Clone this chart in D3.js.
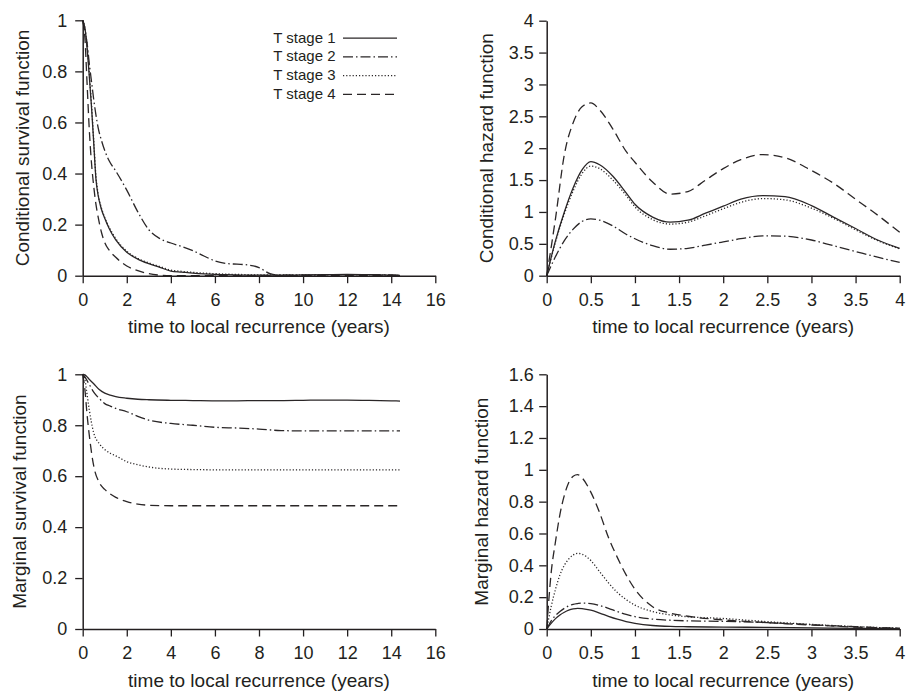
<!DOCTYPE html>
<html>
<head>
<meta charset="utf-8">
<script src="https://cdn.jsdelivr.net/npm/d3@7"></script>
<style>
  body { margin: 0; background: #fff; }
  text { font-family: "Liberation Sans", Arial, sans-serif; fill: #231f20; }
</style>
</head>
<body>
<svg id="chart" width="906" height="691"></svg>
<script>
// ---- data ----
const stages = ["T stage 1", "T stage 2", "T stage 3", "T stage 4"];

// conditional survival
const condSurvTime = [0,0.1,0.2,0.3,0.4,0.5,0.6,0.7,0.85,1,1.2,1.5,2,2.5,3,3.5,4,4.5,5,5.5,6,6.5,7,7.5,8,8.5,9,10,11,12,13,14,14.4];
const condSurvT1 = [1,0.97,0.89,0.78,0.66,0.52,0.38,0.315,0.26,0.225,0.185,0.14,0.092,0.065,0.047,0.033,0.018,0.014,0.01,0.007,0.005,0.004,0.003,0.002,0.002,0.002,0.002,0.003,0.004,0.005,0.004,0.002,0.001];
const condSurvT2 = [1,0.96,0.91,0.83,0.76,0.69,0.63,0.58,0.53,0.49,0.45,0.41,0.335,0.25,0.18,0.145,0.128,0.114,0.098,0.077,0.058,0.048,0.045,0.042,0.032,0.008,0.002,0.002,0.003,0.004,0.004,0.003,0.002];
const condSurvT3 = [1,0.97,0.9,0.79,0.67,0.53,0.39,0.32,0.265,0.228,0.19,0.145,0.096,0.068,0.05,0.036,0.022,0.017,0.013,0.01,0.008,0.006,0.005,0.004,0.003,0.003,0.003,0.003,0.004,0.004,0.003,0.002,0.001];
const condSurvT4 = [1,0.93,0.75,0.57,0.44,0.35,0.28,0.23,0.17,0.13,0.1,0.072,0.038,0.02,0.008,0.002,0,0,0,0,0,0,0,0,0,0,0,0,0,0,0,0,0];

// conditional hazard
const condHazTime = [0,0.1,0.2,0.3,0.4,0.5,0.6,0.75,0.9,1,1.2,1.4,1.6,1.8,2,2.2,2.45,2.7,3,3.25,3.5,3.75,4];
const condHazT1 = [0,0.55,1.0,1.38,1.66,1.79,1.74,1.56,1.3,1.12,0.92,0.84,0.87,0.98,1.09,1.2,1.255,1.24,1.1,0.92,0.74,0.56,0.43];
const condHazT2 = [0,0.3,0.55,0.73,0.85,0.89,0.87,0.78,0.65,0.58,0.47,0.415,0.43,0.48,0.53,0.58,0.625,0.62,0.56,0.47,0.38,0.29,0.21];
const condHazT3 = [0,0.53,0.97,1.33,1.6,1.72,1.68,1.5,1.26,1.08,0.88,0.81,0.84,0.94,1.05,1.15,1.21,1.19,1.06,0.9,0.72,0.55,0.42];
const condHazT4 = [0,0.9,1.9,2.4,2.65,2.71,2.6,2.3,1.95,1.78,1.47,1.28,1.32,1.5,1.68,1.82,1.9,1.85,1.65,1.45,1.2,0.95,0.68];

// marginal survival
const margSurvTime = [0,0.1,0.2,0.3,0.5,0.75,1,1.25,1.5,2,2.5,3,4,5,6,7,8,9,10,11,12,13,14,14.4];
const margSurvT1 = [1,0.998,0.99,0.98,0.963,0.94,0.926,0.918,0.912,0.906,0.902,0.9,0.898,0.897,0.896,0.896,0.897,0.897,0.898,0.899,0.899,0.898,0.896,0.895];
const margSurvT2 = [1,0.99,0.975,0.96,0.93,0.905,0.885,0.875,0.866,0.853,0.835,0.82,0.807,0.8,0.792,0.789,0.785,0.779,0.778,0.778,0.778,0.778,0.778,0.778];
const margSurvT3 = [1,0.98,0.92,0.86,0.77,0.728,0.705,0.69,0.68,0.657,0.645,0.636,0.628,0.626,0.625,0.625,0.625,0.625,0.625,0.625,0.625,0.625,0.625,0.625];
const margSurvT4 = [1,0.94,0.84,0.76,0.64,0.575,0.548,0.53,0.517,0.5,0.49,0.486,0.484,0.484,0.484,0.484,0.484,0.484,0.484,0.484,0.484,0.484,0.484,0.484];

// marginal hazard
const margHazTime = [0,0.05,0.1,0.15,0.2,0.25,0.3,0.35,0.4,0.5,0.6,0.7,0.8,0.9,1,1.2,1.4,1.6,2,2.5,3,3.5,4];
const margHazT1 = [0,0.035,0.065,0.088,0.105,0.118,0.126,0.13,0.128,0.118,0.1,0.08,0.062,0.047,0.036,0.022,0.016,0.014,0.012,0.01,0.007,0.004,0.002];
const margHazT2 = [0,0.05,0.085,0.11,0.13,0.145,0.155,0.16,0.163,0.16,0.148,0.13,0.11,0.092,0.078,0.062,0.055,0.051,0.048,0.04,0.027,0.014,0.004];
const margHazT3 = [0,0.14,0.25,0.34,0.4,0.44,0.465,0.475,0.47,0.43,0.36,0.29,0.23,0.185,0.15,0.11,0.088,0.077,0.066,0.046,0.029,0.015,0.005];
const margHazT4 = [0,0.35,0.55,0.72,0.84,0.92,0.96,0.97,0.95,0.86,0.73,0.575,0.45,0.34,0.25,0.14,0.1,0.08,0.057,0.04,0.025,0.012,0.004];

const survXTicks = [0,2,4,6,8,10,12,14,16];
const hazXTicks = [0,0.5,1,1.5,2,2.5,3,3.5,4];
const survYTicks = [0,0.2,0.4,0.6,0.8,1];
const condHazYTicks = [0,0.5,1,1.5,2,2.5,3,3.5,4];
const margHazYTicks = [0,0.2,0.4,0.6,0.8,1,1.2,1.4,1.6];

// line style per stage: solid, dash-dot, dotted, dashed
const dashes = [null, "10,3,1.5,3", "1.2,2", "9,5"];

// ---- panels ----
const panels = [
  { time: condSurvTime, series: [condSurvT1, condSurvT2, condSurvT3, condSurvT4],
    xDom: [0,16], yDom: [0,1], xTicks: survXTicks, yTicks: survYTicks,
    x0: 82.7, x1: 435.3, y0: 275.7, y1: 20.3, pad: 8, yTitleX: 29,
    yTitle: "Conditional survival function", legend: true },
  { time: condHazTime, series: [condHazT1, condHazT2, condHazT3, condHazT4],
    xDom: [0,4], yDom: [0,4], xTicks: hazXTicks, yTicks: condHazYTicks,
    x0: 546.7, x1: 899.7, y0: 275.7, y1: 20.7, pad: 5.5, yTitleX: 492.5,
    yTitle: "Conditional hazard function" },
  { time: margSurvTime, series: [margSurvT1, margSurvT2, margSurvT3, margSurvT4],
    xDom: [0,16], yDom: [0,1], xTicks: survXTicks, yTicks: survYTicks,
    x0: 82.7, x1: 435.3, y0: 629, y1: 374.3, pad: 8, yTitleX: 25.5,
    yTitle: "Marginal survival function" },
  { time: margHazTime, series: [margHazT1, margHazT2, margHazT3, margHazT4],
    xDom: [0,4], yDom: [0,1.6], xTicks: hazXTicks, yTicks: margHazYTicks,
    x0: 546.7, x1: 899.7, y0: 629, y1: 374.3, pad: 5.5, yTitleX: 488,
    yTitle: "Marginal hazard function" }
];

const svg = d3.select("#chart");
const fmt = d => String(+d.toFixed(2));

panels.forEach(p => {
  const x = d3.scaleLinear().domain(p.xDom).range([p.x0, p.x1]);
  const y = d3.scaleLinear().domain(p.yDom).range([p.y0, p.y1]);
  const g = svg.append("g");

  // curves
  const line = d3.line()
    .x((d, i) => x(p.time[i]))
    .y(d => y(d))
    .curve(d3.curveMonotoneX);

  p.series.forEach((s, k) => {
    g.append("path")
      .attr("d", line(s))
      .attr("fill", "none")
      .attr("stroke", "#2a2627")
      .attr("stroke-width", 1.3)
      .attr("stroke-dasharray", dashes[k]);
  });

  // axes
  const xAxis = g.append("g")
    .attr("transform", `translate(0,${p.y0})`)
    .call(d3.axisBottom(x).tickValues(p.xTicks).tickFormat(fmt)
      .tickSize(7.5).tickSizeOuter(0).tickPadding(10));
  const yAxis = g.append("g")
    .attr("transform", `translate(${p.x0},0)`)
    .call(d3.axisLeft(y).tickValues(p.yTicks).tickFormat(fmt)
      .tickSize(7.5).tickSizeOuter(0).tickPadding(p.pad));

  [xAxis, yAxis].forEach(a => {
    a.attr("font-family", null).attr("font-size", null);
    a.select(".domain").attr("stroke", "#231f20").attr("stroke-width", 1.5);
    a.selectAll(".tick line").attr("stroke", "#231f20").attr("stroke-width", 1.3);
    a.selectAll(".tick text").attr("fill", "#231f20").style("font-size", "18px");
  });

  // titles
  g.append("text")
    .attr("x", (p.x0 + p.x1) / 2)
    .attr("y", p.y0 + 57.5)
    .attr("text-anchor", "middle")
    .style("font-size", "19px")
    .text("time to local recurrence (years)");

  g.append("text")
    .attr("transform", `translate(${p.yTitleX},${(p.y0 + p.y1) / 2}) rotate(-90)`)
    .attr("text-anchor", "middle")
    .style("font-size", "19px")
    .text(p.yTitle);

  // legend
  if (p.legend) {
    stages.forEach((name, k) => {
      const by = 42.7 + k * 18.7;
      g.append("text")
        .attr("x", 273.3)
        .attr("y", by)
        .style("font-size", "15px")
        .text(name);
      g.append("line")
        .attr("x1", 343).attr("x2", 397)
        .attr("y1", by - 4.5).attr("y2", by - 4.5)
        .attr("stroke", "#2a2627")
        .attr("stroke-width", 1.3)
        .attr("stroke-dasharray", dashes[k]);
    });
  }
});
</script>
</body>
</html>
